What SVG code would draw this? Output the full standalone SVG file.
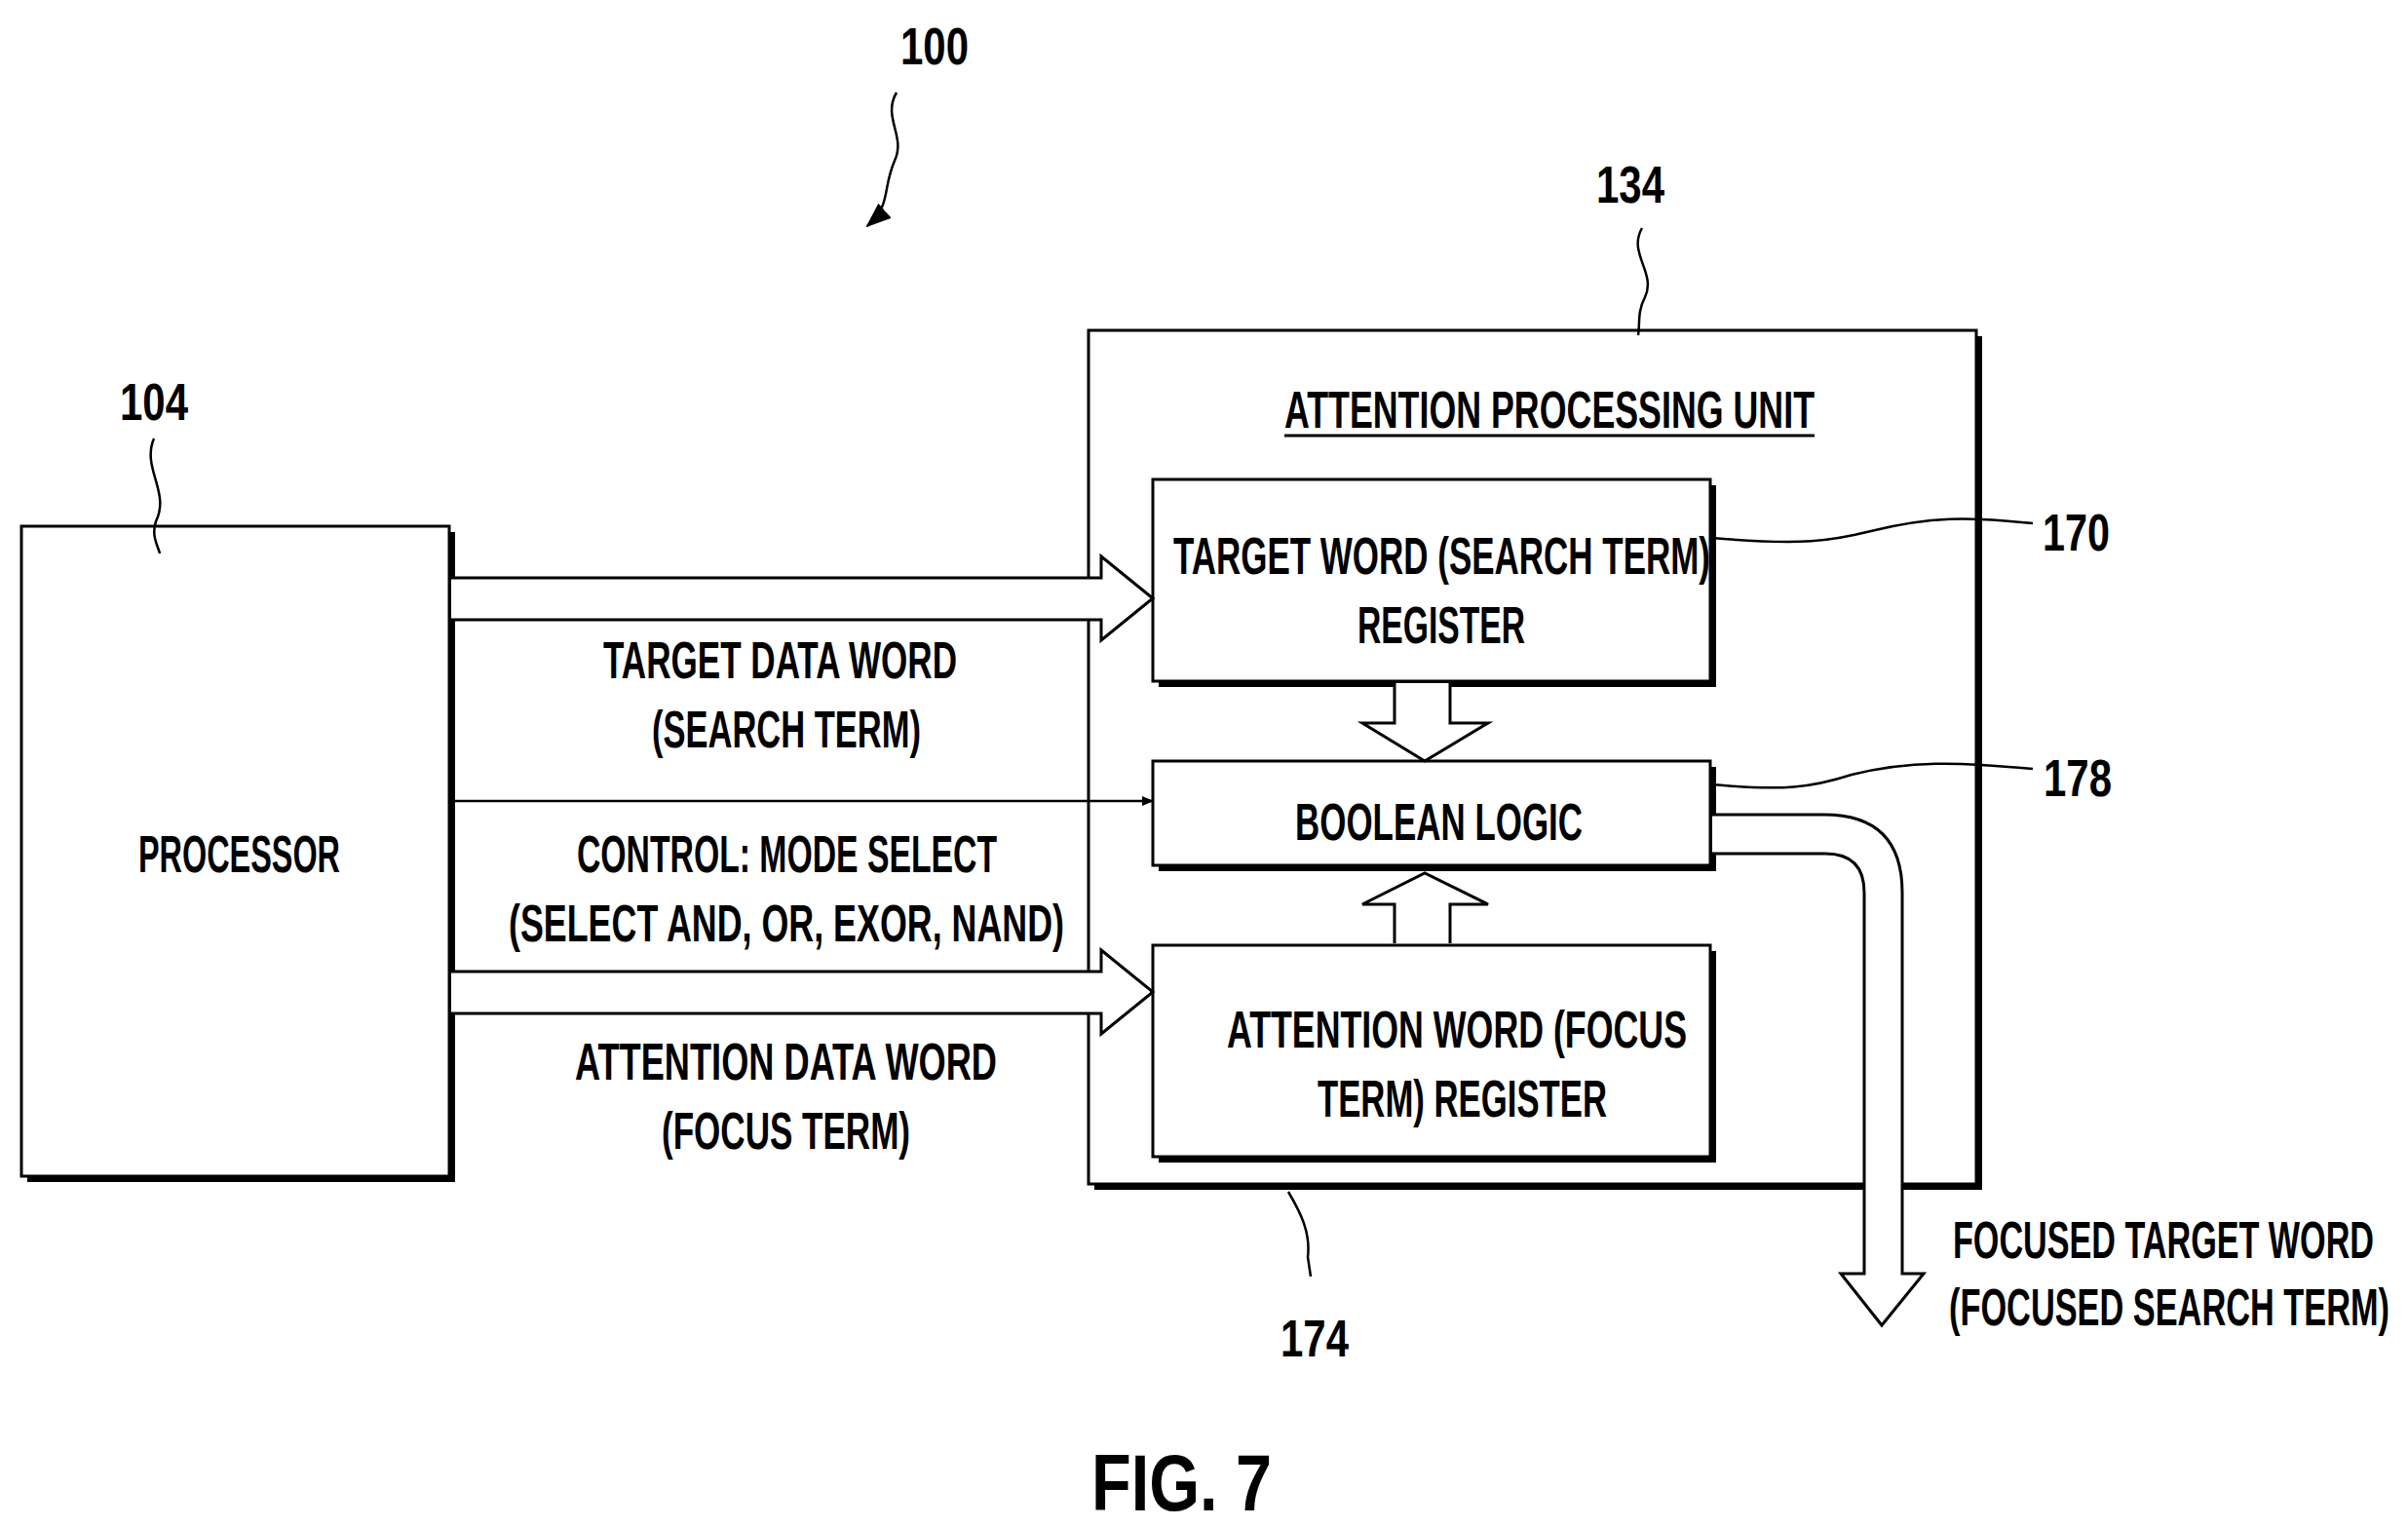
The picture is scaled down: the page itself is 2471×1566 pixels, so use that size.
<svg xmlns="http://www.w3.org/2000/svg" width="2471" height="1566" viewBox="0 0 2471 1566">
<defs>
<style>
.t{font-family:"Liberation Sans",Arial,sans-serif;font-size:54px;font-weight:bold;fill:#000}
.b{fill:#fff;stroke:#000;stroke-width:3}
.s{fill:#000}
.l{fill:none;stroke:#000;stroke-width:2.5}
.h{fill:#fff;stroke:#000;stroke-width:3;stroke-linejoin:miter}
</style>
<marker id="a" markerWidth="12" markerHeight="10" refX="11" refY="5" orient="auto" markerUnits="userSpaceOnUse" viewBox="0 0 12 10"><path d="M0,0 L12,5 L0,10 Z" fill="#000"/></marker>
<marker id="a2" markerWidth="26" markerHeight="20" refX="24" refY="10" orient="auto" markerUnits="userSpaceOnUse" viewBox="0 0 26 20"><path d="M0,0 L26,10 L0,20 Z" fill="#000"/></marker>
</defs>
<rect width="2471" height="1566" fill="#fff"/>
<g id="n100"><text class="t" x="959" y="66" text-anchor="middle" textLength="70" lengthAdjust="spacingAndGlyphs">100</text></g>
<g id="processor">
<rect class="s" x="28" y="546" width="439" height="667"/>
<rect class="b" x="22" y="540" width="439" height="667"/>
<text class="t" x="142" y="895" textLength="207" lengthAdjust="spacingAndGlyphs">PROCESSOR</text>
<text class="t" x="158" y="431" text-anchor="middle" textLength="70" lengthAdjust="spacingAndGlyphs">104</text>
</g>
<g id="apu">
<rect class="s" x="1123" y="345" width="911" height="876"/>
<rect class="b" x="1117" y="339" width="911" height="876"/>
<text class="t" x="1318" y="439" textLength="544" lengthAdjust="spacingAndGlyphs">ATTENTION PROCESSING UNIT</text>
<line x1="1318" y1="447" x2="1862" y2="447" stroke="#000" stroke-width="3"/>
<text class="t" x="1673" y="208" text-anchor="middle" textLength="70" lengthAdjust="spacingAndGlyphs">134</text>
</g>
<g id="target">
<rect class="s" x="1189" y="498" width="572" height="207"/>
<rect class="b" x="1183" y="492" width="572" height="207"/>
<text class="t" x="1204" y="589" textLength="551" lengthAdjust="spacingAndGlyphs">TARGET WORD (SEARCH TERM)</text>
<text class="t" x="1479" y="660" text-anchor="middle" textLength="172" lengthAdjust="spacingAndGlyphs">REGISTER</text>
<text class="t" x="2096" y="565" textLength="69" lengthAdjust="spacingAndGlyphs">170</text>
</g>
<g id="boolean">
<rect class="s" x="1189" y="787" width="572" height="107"/>
<rect class="b" x="1183" y="781" width="572" height="107"/>
<text class="t" x="1329" y="862" textLength="295" lengthAdjust="spacingAndGlyphs">BOOLEAN LOGIC</text>
<text class="t" x="2097" y="817" textLength="70" lengthAdjust="spacingAndGlyphs">178</text>
</g>
<g id="attention">
<rect class="s" x="1189" y="976" width="572" height="217"/>
<rect class="b" x="1183" y="970" width="572" height="217"/>
<text class="t" x="1259" y="1075" textLength="472" lengthAdjust="spacingAndGlyphs">ATTENTION WORD (FOCUS</text>
<text class="t" x="1352" y="1146" textLength="297" lengthAdjust="spacingAndGlyphs">TERM) REGISTER</text>
<text class="t" x="1349" y="1392" text-anchor="middle" textLength="70" lengthAdjust="spacingAndGlyphs">174</text>
</g>
<g id="labels">
<text class="t" x="619" y="696" textLength="363" lengthAdjust="spacingAndGlyphs">TARGET DATA WORD</text>
<text class="t" x="669" y="767" textLength="276" lengthAdjust="spacingAndGlyphs">(SEARCH TERM)</text>
<text class="t" x="592" y="895" textLength="431" lengthAdjust="spacingAndGlyphs">CONTROL: MODE SELECT</text>
<text class="t" x="522" y="966" textLength="570" lengthAdjust="spacingAndGlyphs">(SELECT AND, OR, EXOR, NAND)</text>
<text class="t" x="590" y="1108" textLength="433" lengthAdjust="spacingAndGlyphs">ATTENTION DATA WORD</text>
<text class="t" x="679" y="1179" textLength="255" lengthAdjust="spacingAndGlyphs">(FOCUS TERM)</text>
<text class="t" x="2004" y="1291" textLength="432" lengthAdjust="spacingAndGlyphs">FOCUSED TARGET WORD</text>
<text class="t" x="2000" y="1360" textLength="452" lengthAdjust="spacingAndGlyphs">(FOCUSED SEARCH TERM)</text>
<text class="t" x="1120" y="1550" style="font-size:82px" textLength="185" lengthAdjust="spacingAndGlyphs">FIG. 7</text>
</g>
<g id="connectors">
<path class="h" d="M463,593 H1130 V571 L1183,614 L1130,657 V636 H463"/>
<path class="h" d="M463,997 H1130 V975 L1183,1018 L1130,1061 V1040 H463"/>
<line class="l" x1="463" y1="822" x2="1183" y2="822" marker-end="url(#a)"/>
<path class="h" d="M1431,701 V742 H1398 L1462,781 L1527,742 H1488 V701"/>
<path class="h" d="M1431,968 V928 H1398 L1462,896 L1527,928 H1488 V968"/>
<path class="h" d="M1757,836 H1872 Q1952,836 1952,916 V1307 H1974 L1931,1360 L1889,1307 H1913 V916 Q1913,876 1873,876 H1757"/>
<path class="l" d="M920,95 C905,120 930,140 918,165 C905,195 915,210 890,232" marker-end="url(#a2)"/>
<path class="l" d="M1685,234 C1670,260 1700,280 1688,305 C1680,320 1683,332 1681,344"/>
<path class="l" d="M158,450 C145,480 175,505 160,535 C155,550 162,560 164,568"/>
<path class="l" d="M1757,552 C1850,560 1880,555 1920,545 C1980,530 2020,530 2086,537"/>
<path class="l" d="M1757,805 C1830,812 1860,808 1900,795 C1960,780 2010,782 2086,789"/>
<path class="l" d="M1322,1223 C1335,1245 1345,1265 1342,1290 L1345,1310"/>
</g>
</svg>
